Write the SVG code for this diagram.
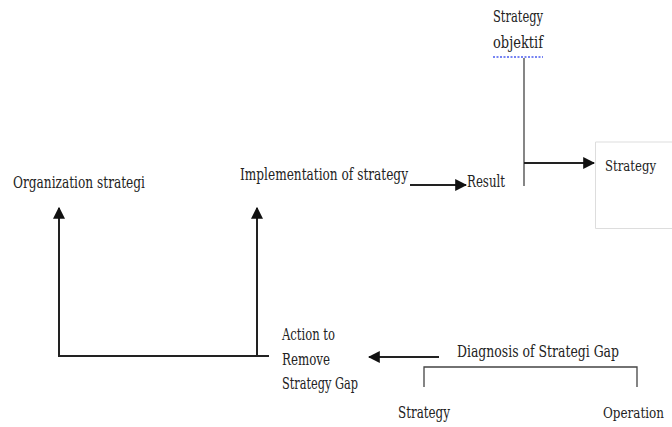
<svg xmlns="http://www.w3.org/2000/svg" width="672" height="427" viewBox="0 0 672 427">
<defs>
<style>
text{font-family:"DejaVu Serif","Liberation Serif",serif;font-size:16px;fill:#222}
.end{text-anchor:end}
.ln{stroke:#222;stroke-width:2;fill:none}
.thin{stroke:#444;stroke-width:1.3;fill:none}
</style>
<marker id="ahb" viewBox="0 0 10 10" refX="9" refY="5" markerWidth="6" markerHeight="6" orient="auto">
<path d="M0,0 L10,5 L0,10 z" fill="#111"/>
</marker>
</defs>
<rect width="672" height="427" fill="#fff"/>
<g id="connectors">
<path class="ln" d="M410,185 H466" marker-end="url(#ahb)"/>
<path class="thin" d="M524,58 V186"/>
<path class="ln" d="M524,163 H594" marker-end="url(#ahb)"/>
<path class="ln" d="M58,356 H269"/>
<path class="ln" d="M59,356 V208" marker-end="url(#ahb)"/>
<path class="ln" d="M257,356 V208" marker-end="url(#ahb)"/>
<path class="ln" d="M439,357 H369" marker-end="url(#ahb)"/>
<path class="thin" d="M424,387 V367 H637 V387"/>
</g>
<g id="strategy-objektif">
<text x="493" y="22" textLength="50" lengthAdjust="spacingAndGlyphs">Strategy</text>
<text x="493" y="48" textLength="50" lengthAdjust="spacingAndGlyphs">objektif</text>
<line x1="493" y1="57" x2="543" y2="57" stroke="#4a5cf0" stroke-width="1.5" stroke-dasharray="2,1.5"/>
</g>
<g id="strategy-box">
<path d="M672,142 H595.5 V228.5 H672" fill="#fff" stroke="#ddd" stroke-width="1"/>
<text x="605" y="171" style="font-size:15px" textLength="51" lengthAdjust="spacingAndGlyphs">Strategy</text>
</g>
<g id="result"><text x="467" y="187" textLength="38" lengthAdjust="spacingAndGlyphs">Result</text></g>
<g id="implementation"><text x="240" y="180" textLength="168" lengthAdjust="spacingAndGlyphs">Implementation of strategy</text></g>
<g id="organization"><text x="13" y="188" textLength="132" lengthAdjust="spacingAndGlyphs">Organization strategi</text></g>
<g id="action">
<text x="282" y="340" textLength="53" lengthAdjust="spacingAndGlyphs">Action to</text>
<text x="282" y="365" textLength="48" lengthAdjust="spacingAndGlyphs">Remove</text>
<text x="282" y="389" textLength="76" lengthAdjust="spacingAndGlyphs">Strategy Gap</text>
</g>
<g id="diagnosis"><text class="end" x="619" y="357" textLength="162" lengthAdjust="spacingAndGlyphs">Diagnosis of Strategi Gap</text></g>
<g id="strategy-bottom"><text x="398" y="418" textLength="52" lengthAdjust="spacingAndGlyphs">Strategy</text></g>
<g id="operation"><text class="end" x="664" y="418" style="font-size:15px" textLength="61" lengthAdjust="spacingAndGlyphs">Operation</text></g>
</svg>
